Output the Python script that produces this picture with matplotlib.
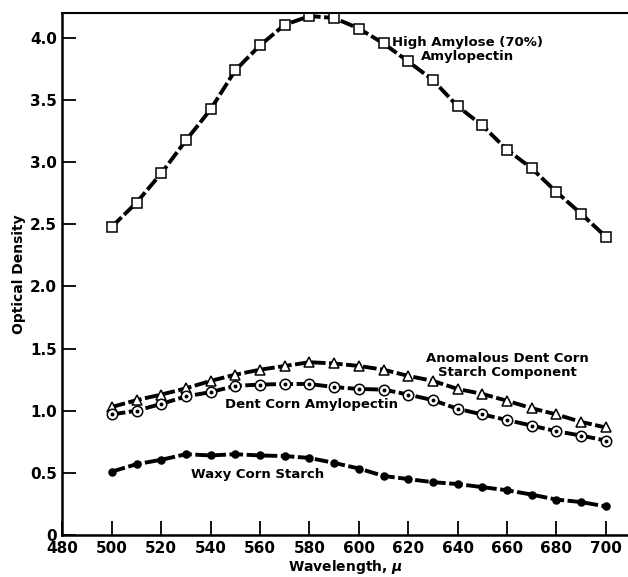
import matplotlib
matplotlib.use("Agg")
import matplotlib.pyplot as plt

plt.rcParams['font.family'] = ['DejaVu Sans']
plt.rcParams['font.weight'] = 'bold'

# wavelength, mu
wl = [500, 510, 520, 530, 540, 550, 560, 570, 580, 590, 600,
      610, 620, 630, 640, 650, 660, 670, 680, 690, 700]

high_amylose = [2.48, 2.675, 2.91, 3.175, 3.425, 3.74, 3.94, 4.105, 4.175, 4.16, 4.075,
                3.955, 3.81, 3.66, 3.45, 3.295, 3.10, 2.95, 2.76, 2.585, 2.40]
anomalous = [1.03, 1.085, 1.13, 1.18, 1.24, 1.29, 1.33, 1.36, 1.39, 1.38, 1.36,
             1.33, 1.28, 1.24, 1.175, 1.135, 1.08, 1.02, 0.97, 0.91, 0.865]
dent_corn = [0.97, 1.0, 1.055, 1.115, 1.15, 1.20, 1.21, 1.215, 1.215, 1.19, 1.175,
             1.17, 1.13, 1.085, 1.015, 0.97, 0.925, 0.88, 0.835, 0.80, 0.76]
waxy = [0.51, 0.57, 0.605, 0.65, 0.64, 0.65, 0.64, 0.635, 0.62, 0.58, 0.535,
        0.475, 0.45, 0.425, 0.41, 0.385, 0.36, 0.325, 0.285, 0.265, 0.23]

xticks = [480, 500, 520, 540, 560, 580, 600, 620, 640, 660, 680, 700]
yticks = [0, 0.5, 1.0, 1.5, 2.0, 2.5, 3.0, 3.5, 4.0]
ylabels = ['0', '0.5', '1.0', '1.5', '2.0', '2.5', '3.0', '3.5', '4.0']

fig = plt.figure(figsize=(6.28, 5.77), dpi=100)
ax = fig.add_axes([0.0995, 0.0728, 0.9005, 0.9047])

line_kw = dict(color='black', lw=2.8, dashes=(3.5, 0.9), mec='black', mew=1.1)
ax.plot(wl, high_amylose, marker='s', ms=6.5, mfc='white', **line_kw)
ax.plot(wl, anomalous, marker='^', ms=7, mfc='white', **line_kw)
ax.plot(wl, dent_corn, marker='o', ms=7.5, mfc='white', **line_kw)
ax.plot(wl, dent_corn, ls='none', marker='o', ms=1.8, color='black')
ax.plot(wl, waxy, marker='o', ms=5, mfc='black', **line_kw)

txt = dict(fontsize=9.5, fontweight='bold', ha='center', va='center', linespacing=1.1)
ax.text(644, 3.91, "High Amylose (70%)\nAmylopectin", **txt)
ax.text(660, 1.36, "Anomalous Dent Corn\nStarch Component", **txt)
ax.text(581, 1.05, "Dent Corn Amylopectin", **txt)
ax.text(559, 0.49, "Waxy Corn Starch", **txt)

ax.set_xlim(480, 709)
ax.set_ylim(0, 4.2)
ax.set_xticks(xticks)
ax.set_yticks(yticks)
ax.set_yticklabels(ylabels)
ax.tick_params(direction='in', length=10, width=1.3, labelsize=11, pad=4)
ax.tick_params(axis='x', pad=4)
for lab in ax.get_xticklabels() + ax.get_yticklabels():
    lab.set_fontweight('bold')
ax.get_yticklabels()[0].set_verticalalignment('center_baseline')

ax.spines['right'].set_visible(False)
ax.spines['left'].set_linewidth(1.8)
ax.spines['bottom'].set_linewidth(1.8)
ax.spines['top'].set_linewidth(1.5)

ax.set_xlabel("Wavelength, $\\mu$", fontsize=10, fontweight='bold')
ax.xaxis.set_label_coords(0.5, -0.045)
ax.set_ylabel("Optical Density", fontsize=10, fontweight='bold')
ax.yaxis.set_label_coords(-0.064, 0.5)

fig.savefig("out.png", dpi=100)
